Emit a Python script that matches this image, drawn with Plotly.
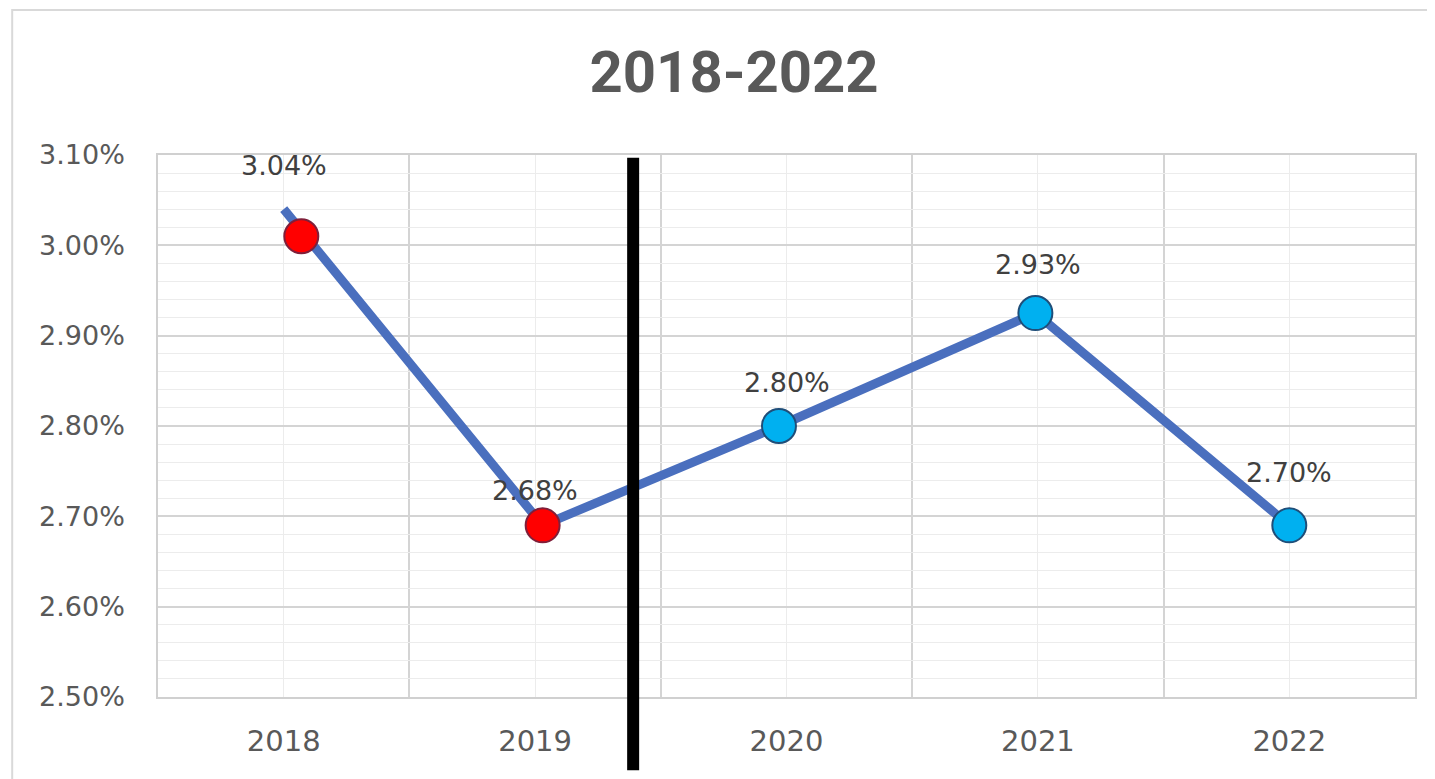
import plotly.graph_objects as go

years = ["2018", "2019", "2020", "2021", "2022"]
line_values = [3.04, 2.69, 2.80, 2.925, 2.69]
marker_values = [3.01, 2.69, 2.80, 2.925, 2.69]
label_values = [3.04, 2.68, 2.80, 2.93, 2.70]
label_texts = ["3.04%", "2.68%", "2.80%", "2.93%", "2.70%"]
marker_colors = ["#ff0000", "#ff0000", "#00b0f0", "#00b0f0", "#00b0f0"]
marker_edges = ["#7f1f3a", "#7f1f3a", "#1f4e79", "#1f4e79", "#1f4e79"]

idx = list(range(len(years)))
line_x = [0.0, 1.03, 1.97, 2.99, 4.0]
marker_x = [0.07, 1.03, 1.97, 2.99, 4.0]

fig = go.Figure()
fig.add_trace(go.Scatter(x=line_x, y=line_values, mode="lines",
                         line=dict(color="#4a6fbe", width=9), hoverinfo="skip"))
fig.add_trace(go.Scatter(x=marker_x, y=marker_values, mode="markers",
                         marker=dict(size=34, color=marker_colors,
                                     line=dict(color=marker_edges, width=2))))

for i, v, t in zip(idx, label_values, label_texts):
    fig.add_annotation(x=i, y=v, text=t, showarrow=False, yshift=44,
                       font=dict(family="DejaVu Sans", size=27, color="#404040"))

# divider line
fig.add_shape(type="line", xref="x", yref="paper", x0=1.39, x1=1.39,
              y0=-0.135, y1=0.995, line=dict(color="black", width=12))
# chart border
fig.add_shape(type="rect", xref="paper", yref="paper", x0=-0.116, x1=1.1,
              y0=-0.3, y1=1.2675, line=dict(color="#d9d9d9", width=2), layer="below")

fig.update_layout(
    width=1435, height=779,
    margin=dict(l=150, r=28, t=147, b=90),
    paper_bgcolor="white", plot_bgcolor="white",
    showlegend=False,
    title=dict(text="<b>2018-2022</b>", x=0.506, xanchor="center", y=0.918, yanchor="middle",
               font=dict(family="Roboto", size=58, color="#595959")),
    xaxis=dict(range=[-0.5, 4.5], tickmode="array", tickvals=idx, ticktext=years,
               showgrid=True, gridcolor="#ececec", gridwidth=1,
               minor=dict(tickmode="array", tickvals=[-0.5, 0.5, 1.5, 2.5, 3.5, 4.5],
                          showgrid=True, gridcolor="#d4d4d4", gridwidth=1.5),
               showline=True, linecolor="#d0d0d0", linewidth=1.5, mirror=True,
               ticks="", tickfont=dict(family="DejaVu Sans", size=29, color="#595959"),
               ticklabelstandoff=17, zeroline=False, fixedrange=True),
    yaxis=dict(range=[2.50, 3.10], dtick=0.1, tick0=2.5, tickformat=".2f", ticksuffix="%",
               showgrid=True, gridcolor="#d4d4d4", gridwidth=1.5,
               minor=dict(dtick=0.02, showgrid=True, gridcolor="#ececec", gridwidth=1),
               showline=True, linecolor="#d0d0d0", linewidth=1.5, mirror=True,
               ticks="", tickfont=dict(family="DejaVu Sans", size=27, color="#595959"),
               ticklabelstandoff=26, zeroline=False, fixedrange=True),
)

fig.write_html("out.html")
